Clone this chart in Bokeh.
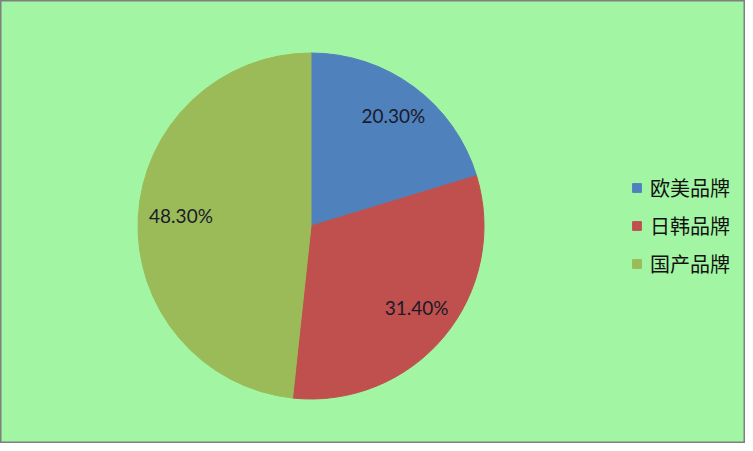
import math
from bokeh.plotting import figure
from bokeh.models import Range1d, Legend, LegendItem, ColumnDataSource
from bokeh.core.properties import value
from bokeh.embed import file_html
from bokeh.resources import INLINE

categories = ["欧美品牌", "日韩品牌", "国产品牌"]
shares = [20.30, 31.40, 48.30]
colors = ["#4F81BD", "#C0504D", "#9BBB59"]

W, H = 745, 443
cx, cy, R = 310.5, H - 225.5, 173

total = sum(shares)
starts, ends, lx, ly, labels = [], [], [], [], []
a = math.pi / 2
for s in shares:
    sweep = 2 * math.pi * s / total
    starts.append(a)
    ends.append(a - sweep)
    mid = a - sweep / 2
    lx.append(cx + 0.77 * R * math.cos(mid) + 3)
    ly.append(cy + 0.77 * R * math.sin(mid) + 3)
    labels.append(f"{s:.2f}%")
    a -= sweep

p = figure(width=W, height=H, output_backend="svg", toolbar_location=None,
           x_range=Range1d(0, W), y_range=Range1d(0, H), min_border=0)
p.background_fill_color = "#A2F5A2"
p.border_fill_color = "#A2F5A2"
p.outline_line_color = "#7F7F7F"
p.outline_line_width = 2
p.axis.visible = False
p.grid.visible = False

renderers = []
for i in range(len(shares)):
    r = p.wedge(x=cx, y=cy, radius=R, start_angle=starts[i], end_angle=ends[i],
                direction="clock", fill_color=colors[i], line_color=colors[i])
    renderers.append(r)

src = ColumnDataSource(dict(x=lx, y=ly, t=labels))
p.text(x="x", y="y", text="t", source=src, text_align="center", text_baseline="middle",
       text_font=value("Lato"), text_font_size="19px", text_color="#1a1a2a")

legend = Legend(items=[LegendItem(label=categories[i], renderers=[renderers[i]]) for i in range(3)],
                location=(631, 165), glyph_width=11, glyph_height=11, label_height=30,
                spacing=8, label_standoff=8, padding=0, margin=0,
                label_text_font="Noto Sans CJK SC", label_text_font_size="20px",
                label_text_color="#111111", background_fill_alpha=0, border_line_color=None)
p.add_layout(legend, "center")

open("out.html", "w").write(file_html(p, INLINE))
